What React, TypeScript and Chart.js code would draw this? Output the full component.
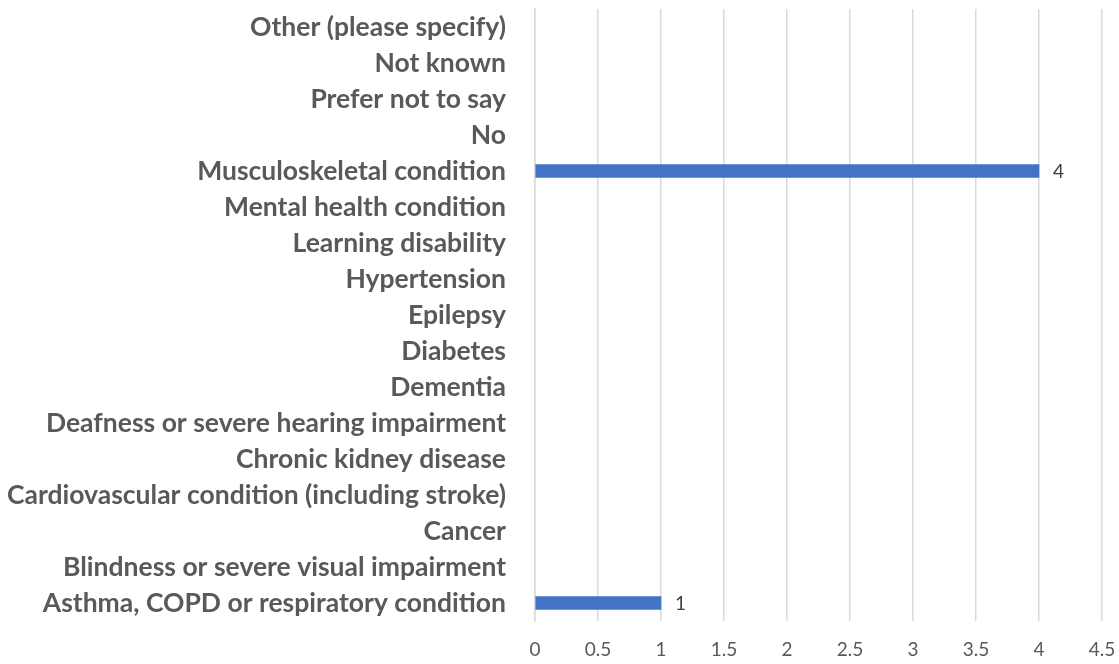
import React, { useEffect, useRef } from "react";
import { Chart, registerables } from "chart.js";

Chart.register(...registerables);

const categories: string[] = [
  "Other (please specify)",
  "Not known",
  "Prefer not to say",
  "No",
  "Musculoskeletal condition",
  "Mental health condition",
  "Learning disability",
  "Hypertension",
  "Epilepsy",
  "Diabetes",
  "Dementia",
  "Deafness or severe hearing impairment",
  "Chronic kidney disease",
  "Cardiovascular condition (including stroke)",
  "Cancer",
  "Blindness or severe visual impairment",
  "Asthma, COPD or respiratory condition",
];

const values: (number | null)[] = [
  null, null, null, null, 4, null, null, null, null, null, null, null, null, null, null, null, 1,
];

const xMin = 0;
const xMax = 4.5;
const xStep = 0.5;

const dataLabelPlugin = {
  id: "dataLabels",
  afterDatasetsDraw(chart: any) {
    const { ctx } = chart;
    const meta = chart.getDatasetMeta(0);
    ctx.save();
    ctx.font = "19px Lato, sans-serif";
    ctx.fillStyle = "#404040";
    ctx.textAlign = "left";
    ctx.textBaseline = "middle";
    meta.data.forEach((el: any, i: number) => {
      const v = values[i];
      if (v === null || v === undefined) return;
      ctx.fillText(String(v), el.x + 14, el.y + 1);
    });
    ctx.restore();
  },
};

export default function App() {
  const ref = useRef<HTMLCanvasElement>(null);
  useEffect(() => {
    document.body.style.margin = "0";
    const chart = new Chart(ref.current!, {
      type: "bar",
      data: {
        labels: categories,
        datasets: [
          {
            data: values as any,
            backgroundColor: "#4472C4",
            barThickness: 13,
          },
        ],
      },
      plugins: [dataLabelPlugin],
      options: {
        indexAxis: "y",
        animation: false,
        responsive: false,
        layout: { padding: { top: 9, right: 17, left: 0, bottom: 0 } },
        plugins: { legend: { display: false }, tooltip: { enabled: false } },
        scales: {
          x: {
            min: xMin,
            max: xMax,
            ticks: {
              stepSize: xStep,
              color: "#595959",
              font: { family: "Lato, sans-serif", size: 19 },
              padding: 17,
              callback: (v: any) => String(Number(v)),
            },
            grid: { color: "#d9d9d9", lineWidth: 1.5, drawTicks: false },
            border: { display: false },
            afterFit: (scale: any) => {
              scale.height = 43;
              scale.paddingLeft = 0;
              scale.paddingRight = 0;
            },
          },
          y: {
            ticks: {
              color: "#595959",
              font: { family: "Lato, sans-serif", size: 26.5, weight: "bold" },
              padding: 29,
              autoSkip: false,
            },
            grid: { display: false, drawTicks: false },
            border: { display: true, color: "#d9d9d9", width: 1.5 },
            afterFit: (scale: any) => {
              scale.width = 535;
              scale.paddingTop = 0;
              scale.paddingBottom = 0;
            },
          },
        },
      },
    });
    return () => chart.destroy();
  }, []);
  return (
    <div style={{ width: 1119, height: 664 }}>
      <canvas ref={ref} width={1119} height={664} />
    </div>
  );
}
